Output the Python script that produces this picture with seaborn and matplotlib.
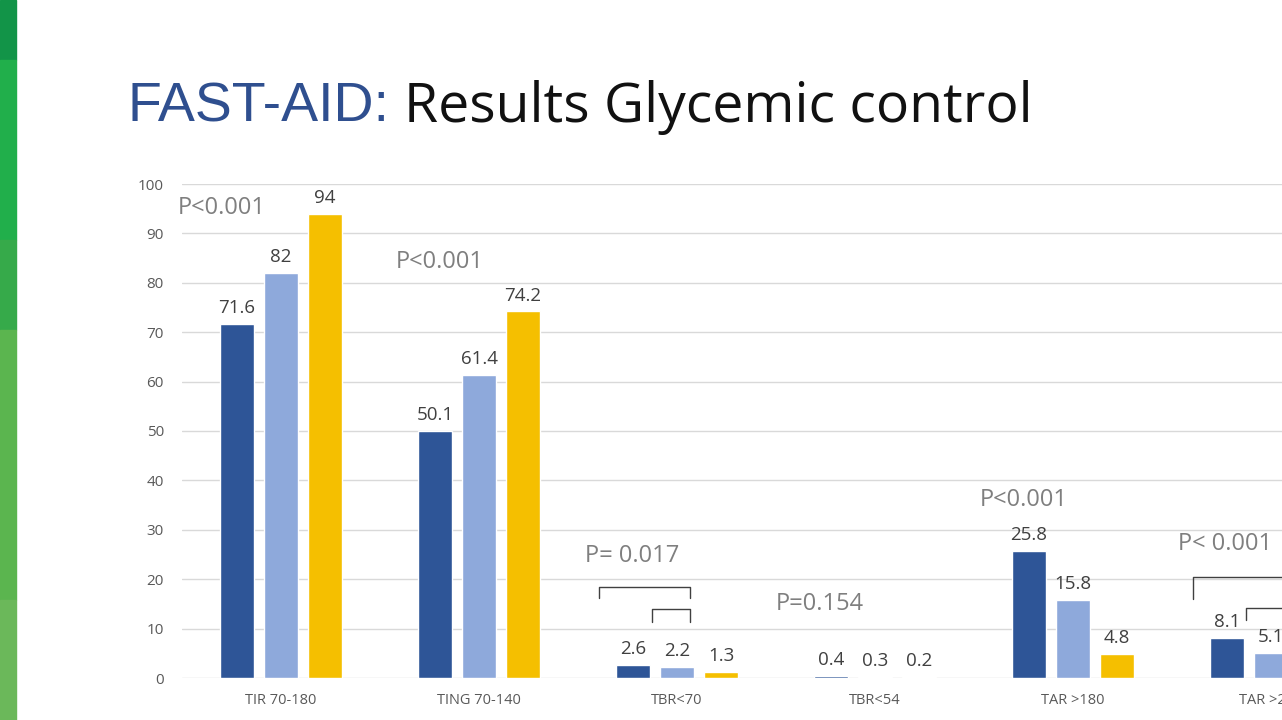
import matplotlib
matplotlib.use("Agg")
import matplotlib.pyplot as plt
import pandas as pd
import seaborn as sns
from matplotlib.patches import Rectangle

# data
categories = ["TIR 70-180", "TING 70-140", "TBR<70", "TBR<54", "TAR >180", "TAR >250"]
series = ["Group 1", "Group 2", "Group 3"]
values_1 = [71.6, 50.1, 2.6, 0.4, 25.8, 8.1]
values_2 = [82, 61.4, 2.2, 0.3, 15.8, 5.1]
values_3 = [94, 74.2, 1.3, 0.2, 4.8, 1.2]
p_labels = ["P<0.001", "P<0.001", "P= 0.017", "P=0.154", "P<0.001", "P< 0.001"]

colors = ["#2E5597", "#8EA9DB", "#F5BF00"]

df = pd.DataFrame({
    "category": categories * 3,
    "series": [s for s in series for _ in categories],
    "value": values_1 + values_2 + values_3,
})

sns.set_theme(style="white")
plt.rcParams["font.family"] = ["Open Sans", "DejaVu Sans"]

W, H = 1282, 720
fig = plt.figure(figsize=(W / 100, H / 100), dpi=100)
fig.patch.set_facecolor("white")

# green strip on the left side of the slide
strip = [(0, 60, "#129448"), (60, 240, "#21AF4B"), (240, 330, "#36AA4A"),
         (330, 600, "#5BB54F"), (600, 720, "#6BB85A")]
for top, bottom, c in strip:
    fig.patches.append(Rectangle((0, 1 - bottom / H), 16 / W, (bottom - top) / H,
                                 transform=fig.transFigure, color=c, zorder=0))

# title, two colours
t1 = fig.text(127 / W, 1 - 122 / H, "FAST-AID:", fontsize=40, color="#2F4F8F",
              family=["Liberation Sans", "DejaVu Sans"], va="baseline")
fig.canvas.draw()
bb = t1.get_window_extent(renderer=fig.canvas.get_renderer())
fig.text((bb.x1 + 15) / W, 1 - 122 / H, "Results Glycemic control", fontsize=39.8,
         color="#111111", family=["Open Sans", "DejaVu Sans"], va="baseline")

ax = fig.add_axes([182 / W, 42 / H, 1188 / W, 494 / H])
sns.barplot(data=df, x="category", y="value", hue="series", palette=colors,
            width=0.667, gap=0.22, saturation=1, ax=ax, legend=False, errorbar=None)

ax.set_xlim(-0.5, 5.5)
ax.set_ylim(0, 100)
ax.set_yticks(range(0, 101, 10))
ax.yaxis.grid(True, color="#D9D9D9", linewidth=1)
ax.set_axisbelow(True)
for s in ax.spines.values():
    s.set_visible(False)
ax.set_xlabel("")
ax.set_ylabel("")
ax.tick_params(axis="y", length=0, pad=13, labelsize=11, labelcolor="#595959")
ax.tick_params(axis="x", length=0, pad=11, labelsize=10.5, labelcolor="#595959")

for cont in ax.containers:
    ax.bar_label(cont, fmt="%g", padding=5, fontsize=13.5, color="#404040")

# p-values
p_pos = [(-0.298, 95.1), (0.803, 84.2), (1.773, 24.7), (2.722, 15.0), (3.753, 36.0), (4.768, 27.1)]
for lab, (x, y) in zip(p_labels, p_pos):
    ax.text(x, y, lab, ha="center", va="center", fontsize=17, color="#7F7F7F")

# brackets for TBR<70 and TAR >250
brackets = [(1.606, 2.066, 18.4, 16.2), (1.874, 2.066, 14.0, 11.3),
            (4.606, 5.066, 20.4, 16.0), (4.874, 5.066, 14.2, 11.7)]
for x0, x1, top, low in brackets:
    ax.plot([x0, x0, x1, x1], [low, top, top, low], color="#404040", linewidth=1,
            clip_on=False)

fig.savefig("out.png", dpi=100, facecolor="white")
